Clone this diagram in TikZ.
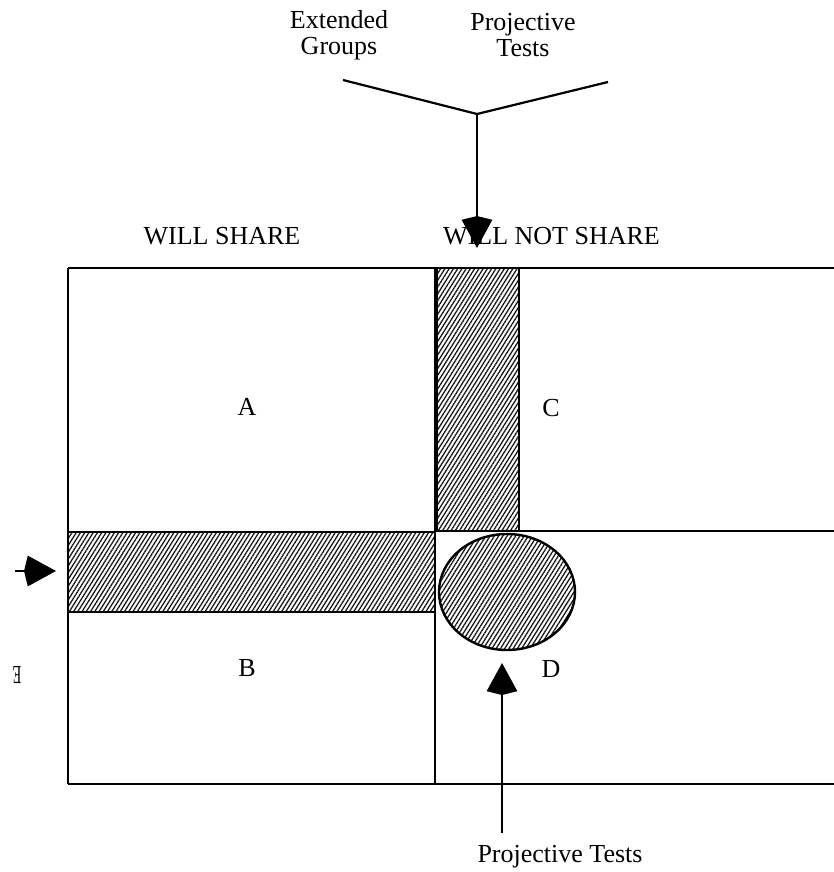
\documentclass[tikz,border=0pt]{standalone}
\usepackage{fontspec}
\setmainfont{Liberation Serif}
\usetikzlibrary{arrows.meta,patterns.meta,shapes.geometric}

\begin{document}
\begin{tikzpicture}[x=1pt,y=-1pt,
  frame/.style={line width=2.4pt},
  hatch/.style={frame, pattern={Lines[angle=58,distance=3.6pt,line width=1.3pt]}, pattern color=black!90},
  txt/.style={font=\fontsize{26}{26}\selectfont, inner sep=0pt, align=center},
  pointer/.style={line width=2.2pt, -{Stealth[length=28pt,width=30pt,inset=-4pt]}},
  plain/.style={line width=2.2pt},
]
\useasboundingbox (0,0) rectangle (834,872);

% grid of the four cells
\draw[frame] (68,268) -- (834,268);
\draw[frame] (68,784) -- (834,784);
\draw[frame] (68,268) -- (68,784);
\draw[frame] (435,268) -- (435,784);
\draw[frame] (519,531) -- (834,531);

% shaded bands and the shaded oval
\draw[hatch] (68,532) rectangle (435,612);
\draw[hatch] (437,268) rectangle (519,531);
\node[hatch, draw, ellipse, minimum width=136pt, minimum height=116pt, inner sep=0pt] (oval) at (507,592) {};

% cell letters
\node[txt] (A) at (247,407) {A};
\node[txt] (B) at (247,668) {B};
\node[txt] (C) at (551,408) {C};
\node[txt] (D) at (551,669) {D};

% column headings
\node[txt] (share) at (222,236) {WILL SHARE};
\node[txt, anchor=west] (noshare) at (443,236) {WILL NOT SHARE};

% top sources
\node[txt] (ext) at (339,35) {Extended\\Groups};
\node[txt] (projtop) at (523,35) {Projective\\Tests};
\coordinate (ya) at (343,80);
\coordinate (yb) at (608,82);
\coordinate (yj) at (477,114);
\coordinate (ytip) at (477,248);
\draw[plain] (ya) -- (yj) -- (yb);
\draw[pointer] (yj) -- (ytip);

% left pointer
\coordinate (ls) at (15,571);
\coordinate (lt) at (56,571);
\draw[pointer] (ls) -- (lt);

% bottom source
\node[txt] (projbot) at (560,857) {Projective Tests};
\coordinate (bs) at (502,833);
\coordinate (bt) at (502,663);
\draw[pointer] (bs) -- (bt);

% small turned letter at the left margin
\node[txt, rotate=180, xscale=0.55] (turned) at (17,675) {E};
\end{tikzpicture}
\end{document}
